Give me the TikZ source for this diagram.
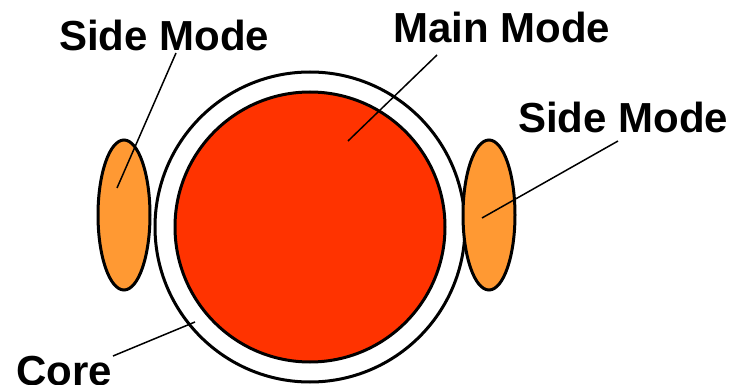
\documentclass[tikz,border=0pt]{standalone}
\usepackage{fontspec}
\setmainfont{Liberation Sans}
\begin{document}
\begin{tikzpicture}[x=1pt,y=-1pt,
  shapeline/.style={line width=3pt,draw=black},
  pointer/.style={line width=1.5pt,draw=black},
  lbl/.style={anchor=base west,inner sep=0pt,font=\fontsize{42}{42}\selectfont\bfseries}]
\useasboundingbox (0,0) rectangle (732,385);
\definecolor{mainred}{HTML}{FF3300}
\definecolor{sideorange}{HTML}{FF9933}
% core and modes
\draw[shapeline,fill=white] (310,227) circle (155);
\draw[shapeline,fill=mainred] (310,227) circle (135);
\draw[shapeline,fill=sideorange] (124,215) ellipse (26 and 75);
\draw[shapeline,fill=sideorange] (489,215) ellipse (26 and 75);
% labels
\node[lbl] (sl) at (59,51) {Side Mode};
\node[lbl] (mm) at (393,43) {Main Mode};
\node[lbl] (sr) at (518,133) {Side Mode};
\node[lbl] (core) at (16,385) {Core};
% pointer ends
\coordinate (slA) at (176,53);
\coordinate (slB) at (117,188);
\coordinate (mmA) at (437,55);
\coordinate (mmB) at (348,141);
\coordinate (srA) at (618,141);
\coordinate (srB) at (482,218);
\coordinate (coA) at (113,356);
\coordinate (coB) at (195,322);
\draw[pointer] (slA) -- (slB);
\draw[pointer] (mmA) -- (mmB);
\draw[pointer] (srA) -- (srB);
\draw[pointer] (coA) -- (coB);
\end{tikzpicture}
\end{document}
